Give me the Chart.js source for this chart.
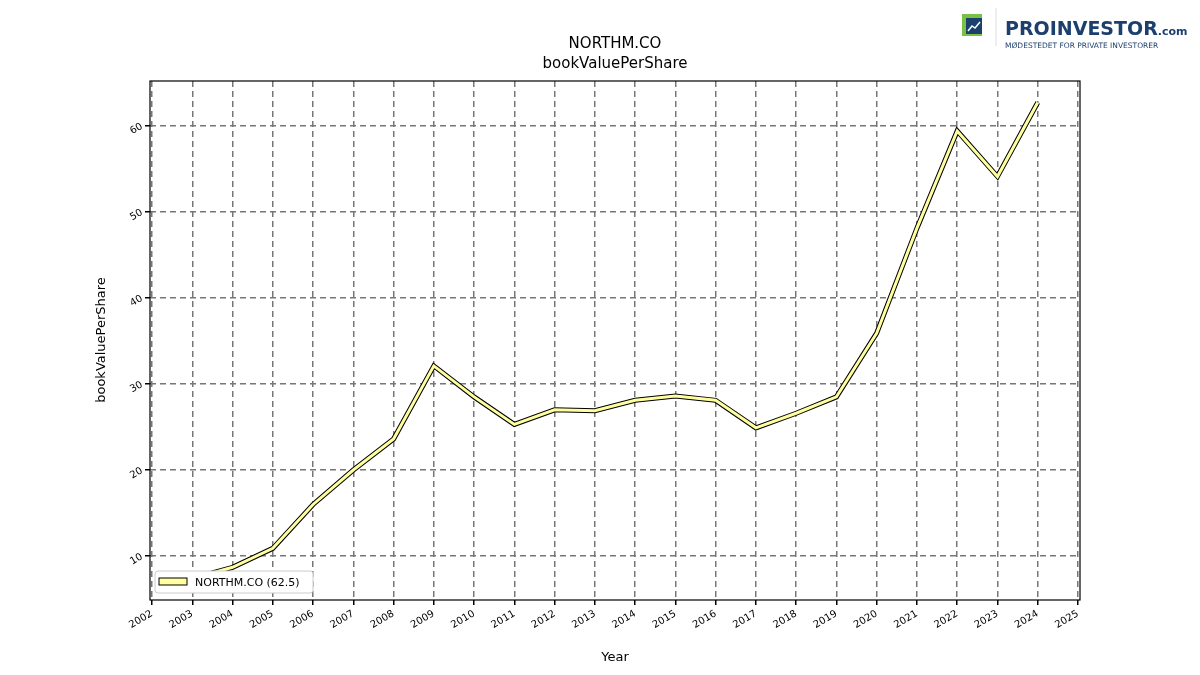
<!DOCTYPE html>
<html><head><meta charset="utf-8">
<script src="https://cdn.jsdelivr.net/npm/chart.js@4"></script>
<style>body{margin:0;background:#fff}canvas{display:block}</style>
</head><body>
<canvas id="c" width="1200" height="675"></canvas>
<script>
const years = [2003,2004,2005,2006,2007,2008,2009,2010,2011,2012,2013,2014,2015,2016,2017,2018,2019,2020,2021,2022,2023,2024];
const bookValue = [7.4,8.7,10.9,16.0,20.0,23.6,32.1,28.5,25.3,27.0,26.9,28.1,28.6,28.1,24.9,26.6,28.5,35.9,48.1,59.4,54.1,62.7];
const xTicks = [2002,2003,2004,2005,2006,2007,2008,2009,2010,2011,2012,2013,2014,2015,2016,2017,2018,2019,2020,2021,2022,2023,2024,2025];
const yTicks = [10,20,30,40,50,60];

const pts = years.map((y, i) => ({x: y, y: bookValue[i]}));
const F = 'DejaVu Sans';

const decor = {
  id: 'decor',
  afterDraw(chart) {
    const ctx = chart.ctx, a = chart.chartArea;
    ctx.save();
    ctx.strokeStyle = '#000'; ctx.lineWidth = 1.2;
    ctx.strokeRect(a.left, a.top, a.right - a.left, a.bottom - a.top);
    ctx.fillStyle = '#000'; ctx.textAlign = 'center'; ctx.textBaseline = 'alphabetic';
    ctx.font = '15px ' + F;
    ctx.fillText('NORTHM.CO', 615, 48);
    ctx.fillText('bookValuePerShare', 615, 68);
    ctx.font = '13px ' + F;
    ctx.fillText('Year', 615, 661);
    ctx.save(); ctx.translate(105, 340); ctx.rotate(-Math.PI / 2);
    ctx.fillText('bookValuePerShare', 0, 0); ctx.restore();
    // legend
    ctx.strokeStyle = '#ccc'; ctx.lineWidth = 1;
    ctx.fillStyle = '#fff';
    ctx.beginPath(); ctx.roundRect(155, 571, 158, 22, 3); ctx.fill(); ctx.stroke();
    ctx.fillStyle = '#ffffa0'; ctx.strokeStyle = '#000';
    ctx.fillRect(159, 578, 28, 7); ctx.strokeRect(159, 578, 28, 7);
    ctx.fillStyle = '#000'; ctx.textAlign = 'left'; ctx.font = '11px ' + F;
    ctx.fillText('NORTHM.CO (62.5)', 195, 586);
    // logo
    ctx.fillStyle = '#7ac143'; ctx.fillRect(962, 14, 20, 22);
    ctx.fillStyle = '#1c3f6e'; ctx.fillRect(966, 18, 16, 16);
    ctx.strokeStyle = '#fff'; ctx.lineWidth = 1.5; ctx.beginPath();
    ctx.moveTo(968, 31); ctx.lineTo(972, 26); ctx.lineTo(975, 28); ctx.lineTo(980, 22); ctx.stroke();
    ctx.strokeStyle = '#ddd'; ctx.lineWidth = 1; ctx.beginPath(); ctx.moveTo(996, 8); ctx.lineTo(996, 46); ctx.stroke();
    ctx.fillStyle = '#1c3f6e';
    ctx.font = 'bold 19px ' + F; ctx.fillText('PROINVESTOR', 1005, 35);
    const w = ctx.measureText('PROINVESTOR').width;
    ctx.font = 'bold 11px ' + F; ctx.fillText('.com', 1005 + w, 35);
    ctx.font = '7.5px ' + F; ctx.fillText('MØDESTEDET FOR PRIVATE INVESTORER', 1005, 48);
    ctx.restore();
  }
};

new Chart(document.getElementById('c'), {
  type: 'line',
  data: {
    datasets: [
      {label: 'NORTHM.CO (62.5)', data: pts, borderColor: '#000', borderWidth: 5, pointRadius: 0, tension: 0, order: 2},
      {label: 'inner', data: pts, borderColor: '#ffffa0', borderWidth: 3, pointRadius: 0, tension: 0, order: 1}
    ]
  },
  options: {
    responsive: false, animation: false,
    layout: {padding: {top: 81, right: 120, left: 0, bottom: 0}},
    plugins: {title: {display: false}, tooltip: {enabled: false}, legend: {display: false}},
    scales: {
      x: {
        type: 'linear', min: 2001.95, max: 2025.05,
        afterBuildTicks: s => { s.ticks = xTicks.map(v => ({value: v})); },
        afterFit: s => { s.height = 75; },
        ticks: {font: {family: F, size: 10}, color: '#000', maxRotation: 30, minRotation: 30, callback: v => String(v)},
        grid: {color: '#777', lineWidth: 1.5, tickLength: 5, tickColor: '#000'},
        border: {dash: [6, 4], display: false}
      },
      y: {
        min: 4.9, max: 65.2,
        afterBuildTicks: s => { s.ticks = yTicks.map(v => ({value: v})); },
        afterFit: s => { s.width = 150; },
        ticks: {font: {family: F, size: 10}, color: '#000', maxRotation: 30, minRotation: 30},
        grid: {color: '#777', lineWidth: 1.5, tickLength: 5, tickColor: '#000'},
        border: {dash: [6, 4], display: false}
      }
    }
  },
  plugins: [decor]
});
</script>
</body></html>
